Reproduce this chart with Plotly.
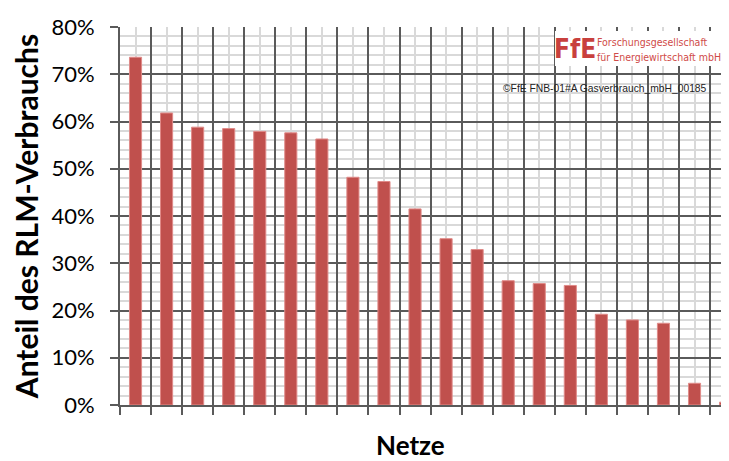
import plotly.graph_objects as go
import numpy as np

# ---- data ----
netze = [f"Netz {i}" for i in range(1, 21)]
anteil_rlm = [0.736, 0.618, 0.588, 0.585, 0.579, 0.576, 0.563, 0.482, 0.473, 0.415,
              0.352, 0.329, 0.263, 0.257, 0.253, 0.192, 0.180, 0.173, 0.046, 0.006]
y_ticks = [0, 0.1, 0.2, 0.3, 0.4, 0.5, 0.6, 0.7, 0.8]
y_ticktext = ["0%", "10%", "20%", "30%", "40%", "50%", "60%", "70%", "80%"]

x_idx = np.arange(len(netze))

# the page body adds an 8px offset (top/left); compensate so the screen matches 729x461
OFF = 8
W, H = 729 - OFF, 461 - OFF
ML, MT, MB, MR = 120 - OFF, 27 - OFF, 55.5, 0
plot_w = W - ML - MR
plot_h = H - MT - MB

def px(xs):
    return (xs - OFF - ML) / plot_w

def py(ys):
    return (H - MB - (ys - OFF)) / plot_h

fig = go.Figure()
fig.add_trace(go.Bar(
    x=x_idx, y=anteil_rlm, width=0.39,
    marker=dict(color="#C0504D", line=dict(color="#E08A88", width=1)),
    hovertext=netze,
))

dark = "#5A5A5A"
light = "#D9D9D9"
font_main = "Lato, Calibri, Carlito, sans-serif"

fig.update_layout(
    width=W, height=H,
    margin=dict(l=ML, r=MR, t=MT, b=MB),
    paper_bgcolor="white", plot_bgcolor="white",
    showlegend=False,
    xaxis=dict(
        automargin=False,
        range=[-0.5, 19.11],
        tickmode="linear", tick0=-0.5, dtick=1,
        showticklabels=False,
        ticks="outside", ticklen=8, tickwidth=2, tickcolor=dark,
        showgrid=True, gridcolor=dark, gridwidth=2,
        minor=dict(tickmode="linear", tick0=0, dtick=1, showgrid=True,
                   gridcolor=light, gridwidth=1.5, ticks=""),
        showline=True, linecolor=dark, linewidth=2,
        zeroline=False,
    ),
    yaxis=dict(
        automargin=False,
        range=[0, 0.8],
        tickmode="array", tickvals=y_ticks, ticktext=y_ticktext,
        ticks="outside", ticklen=8, tickwidth=2, tickcolor=dark,
        tickfont=dict(family=font_main, size=22, color="black"),
        ticklabelstandoff=11,
        showgrid=True, gridcolor=dark, gridwidth=2,
        minor=dict(tickmode="linear", tick0=0, dtick=0.02, showgrid=True,
                   gridcolor=light, gridwidth=1.5, ticks=""),
        showline=True, linecolor=dark, linewidth=2,
        zeroline=False,
        title=dict(text="<b>Anteil des RLM-Verbrauchs</b>",
                   font=dict(family=font_main, size=30, color="black"), standoff=8),
    ),
)

# x axis title
fig.add_annotation(xref="paper", yref="paper", x=px(410.5), y=py(446),
                   text="<b>Netze</b>", showarrow=False,
                   font=dict(family=font_main, size=26, color="black"),
                   xanchor="center", yanchor="middle")

# logo background
fig.add_shape(type="rect", xref="paper", yref="paper",
              x0=px(555), x1=px(721), y0=py(66), y1=py(31),
              fillcolor="white", line=dict(width=0), layer="above")

logo_red = "#D04A48"
fig.add_annotation(xref="paper", yref="paper", x=px(575), y=py(49),
                   text="<b>FfE</b>", showarrow=False,
                   font=dict(family="DejaVu Sans Condensed, sans-serif", size=26, color="#C8403D"),
                   xanchor="center", yanchor="middle")
fig.add_annotation(xref="paper", yref="paper", x=px(595), y=py(42),
                   text="Forschungsgesellschaft", showarrow=False,
                   font=dict(family="DejaVu Sans Condensed, sans-serif",
                             size=10.5, color=logo_red),
                   xanchor="left", yanchor="middle")
fig.add_annotation(xref="paper", yref="paper", x=px(595), y=py(57),
                   text="für Energiewirtschaft mbH", showarrow=False,
                   font=dict(family="DejaVu Sans Condensed, sans-serif",
                             size=10.5, color=logo_red),
                   xanchor="left", yanchor="middle")
fig.add_annotation(xref="paper", yref="paper", x=px(709), y=py(89),
                   text="©FfE FNB-01#A Gasverbrauch_mbH_00185", showarrow=False,
                   font=dict(family="Liberation Sans, Arial, sans-serif", size=10.3, color="#222222"),
                   xanchor="right", yanchor="middle")

fig.write_html("out.html")
